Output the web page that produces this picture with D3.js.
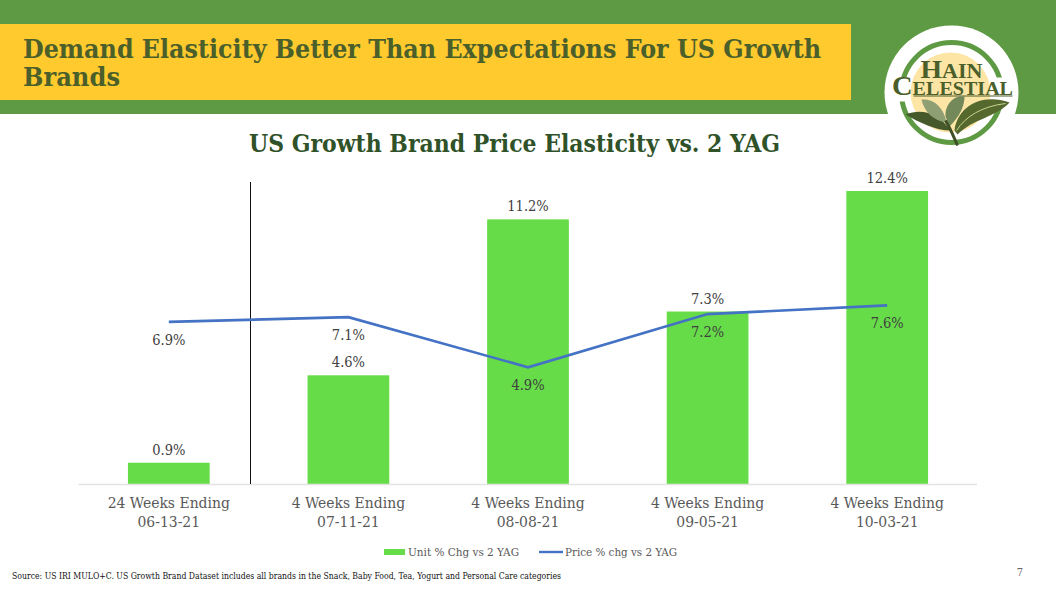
<!DOCTYPE html>
<html><head><meta charset="utf-8">
<script src="https://cdnjs.cloudflare.com/ajax/libs/d3/7.8.5/d3.min.js"></script>
<style>html,body{margin:0;padding:0;background:#fff}svg{display:block}</style></head>
<body><svg id="c" width="1056" height="594"></svg>
<script>
const categoriesTop=["24 Weeks Ending","4 Weeks Ending","4 Weeks Ending","4 Weeks Ending","4 Weeks Ending"];
const categoriesBottom=["06-13-21","07-11-21","08-08-21","09-05-21","10-03-21"];
const unitValues=[0.9,4.6,11.2,7.3,12.4];
const priceValues=[6.86,7.06,4.94,7.19,7.56];
const unitLabels=["0.9%","4.6%","11.2%","7.3%","12.4%"];
const priceLabels=["6.9%","7.1%","4.9%","7.2%","7.6%"];
const idx=d3.range(unitValues.length);
const serif="'DejaVu Serif Condensed','DejaVu Serif',serif";
const svg=d3.select("#c");
const fit=(sel,w)=>sel.attr("textLength",w).attr("lengthAdjust","spacingAndGlyphs");

// header
svg.append("rect").attr("width",1056).attr("height",114).attr("fill","#5e9a43");
svg.append("rect").attr("y",24).attr("width",851).attr("height",76).attr("fill","#ffca2e");
const h=svg.append("g").attr("font-family",serif).attr("font-weight",700).attr("font-size",26).attr("fill","#4b5f2b");
fit(h.append("text").attr("x",23).attr("y",58).text("Demand Elasticity Better Than Expectations For US Growth"),798);
fit(h.append("text").attr("x",23).attr("y",86).text("Brands"),97);
fit(svg.append("text").attr("x",249).attr("y",152).attr("font-family",serif).attr("font-weight",700).attr("font-size",24).attr("fill","#2f5228").text("US Growth Brand Price Elasticity vs. 2 YAG"),531);

// logo
const logo=svg.append("g").attr("transform","translate(951.5,92.5)");
logo.append("circle").attr("r",67).attr("fill","#fff");
logo.append("circle").attr("r",50).attr("fill","none").attr("stroke","#5e9a43").attr("stroke-width",5);
logo.append("rect").attr("x",-62).attr("y",-15).attr("width",124).attr("height",24).attr("fill","#fff");
logo.append("circle").attr("cx",-1).attr("r",40).attr("fill","#fde5a6");
const lt=logo.append("g").attr("font-family","'Liberation Serif',serif").attr("font-weight",700).attr("fill","#4b5f2b").attr("text-anchor","middle");
const hain=lt.append("text").attr("x",0).attr("y",-15);
hain.append("tspan").attr("font-size",25).text("H");
hain.append("tspan").attr("font-size",20).text("AIN");
fit(hain,62);
const cel=lt.append("text").attr("x",1).attr("y",2);
cel.append("tspan").attr("font-size",27).text("C");
cel.append("tspan").attr("font-size",19).text("ELESTIAL");
fit(cel,121);
logo.append("line").attr("x1",-38).attr("x2",61).attr("y1",3.5).attr("y2",3.5).attr("stroke","#4b5f2b").attr("stroke-width",1);
const leaf=(d,f)=>logo.append("path").attr("d",d).attr("fill",f);
leaf("M-46,22 C-28,15 -12,22 -1,38 C-16,38 -32,30 -46,22Z","#46592b");
leaf("M-30,7 C-18,6 -8,14 -5,30 C-18,28 -27,20 -30,7Z","#8d9f73");
leaf("M-6,24 C-7,12 3,2 13,4 C13,14 8,24 -2,34Z","#74895a");
leaf("M3,38 C6,14 30,0 58,10 C44,25 22,26 6,42Z","#55692f");
logo.append("path").attr("d","M-6,28 C-1,36 2,44 6,53").attr("fill","none").attr("stroke","#3f4f26").attr("stroke-width",3);
logo.append("path").attr("d","M5,38 C14,24 30,14 54,11").attr("fill","none").attr("stroke","#c9d48f").attr("stroke-width",1);

// chart
const x=d3.scaleBand().domain(idx).range([79,977]).paddingInner(0.545).paddingOuter(0.2725);
const y=d3.scaleLinear().domain([0,12.4]).range([484,191]);
const g=svg.append("g");
g.selectAll(".bar").data(idx).join("rect").attr("class","bar")
 .attr("x",i=>x(i)).attr("width",x.bandwidth()).attr("y",i=>y(unitValues[i])).attr("height",i=>y(0)-y(unitValues[i])).attr("fill","#66dc48");
g.append("line").attr("x1",78.5).attr("x2",977).attr("y1",484.5).attr("y2",484.5).attr("stroke","#e3e3e3").attr("stroke-width",1.5);
g.append("line").attr("x1",250.5).attr("x2",250.5).attr("y1",182).attr("y2",484).attr("stroke","#111").attr("stroke-width",1);
const cx=i=>x(i)+x.bandwidth()/2;
g.append("path").datum(idx).attr("fill","none").attr("stroke","#4472c4").attr("stroke-width",2.6)
 .attr("d",d3.line().x(cx).y(i=>y(priceValues[i])));
const lab=g.append("g").attr("font-family",serif).attr("font-size",14.5).attr("fill","#404040").attr("text-anchor","middle");
lab.selectAll(".u").data(idx).join("text").attr("class","u").attr("x",cx).attr("y",i=>y(unitValues[i])-8).text(i=>unitLabels[i]);
lab.selectAll(".p").data(idx).join("text").attr("class","p").attr("x",cx).attr("y",i=>y(priceValues[i])+23).text(i=>priceLabels[i]);
const ax=g.append("g").attr("font-family",serif).attr("font-size",15.5).attr("fill","#595959").attr("text-anchor","middle");
ax.selectAll(".t").data(idx).join("text").attr("class","t").attr("x",cx).attr("y",508).text(i=>categoriesTop[i]);
ax.selectAll(".b").data(idx).join("text").attr("class","b").attr("x",cx).attr("y",527).text(i=>categoriesBottom[i]);

// legend
const leg=svg.append("g").attr("font-family",serif).attr("font-size",11).attr("fill","#595959");
leg.append("rect").attr("x",384).attr("y",549).attr("width",21).attr("height",6).attr("fill","#66dc48");
fit(leg.append("text").attr("x",408).attr("y",556).text("Unit % Chg vs 2 YAG"),111);
leg.append("line").attr("x1",539).attr("x2",563).attr("y1",552).attr("y2",552).attr("stroke","#4472c4").attr("stroke-width",2.4);
fit(leg.append("text").attr("x",565).attr("y",556).text("Price % chg vs 2 YAG"),112);

// footer
fit(svg.append("text").attr("x",12).attr("y",579).attr("font-family",serif).attr("font-size",8.5).attr("fill","#111").text("Source: US IRI MULO+C. US Growth Brand Dataset includes all brands in the Snack, Baby Food, Tea, Yogurt and Personal Care categories"),549);
svg.append("text").attr("x",1020).attr("y",576).attr("font-family",serif).attr("font-size",11).attr("fill","#666").attr("text-anchor","middle").text("7");
</script></body></html>
